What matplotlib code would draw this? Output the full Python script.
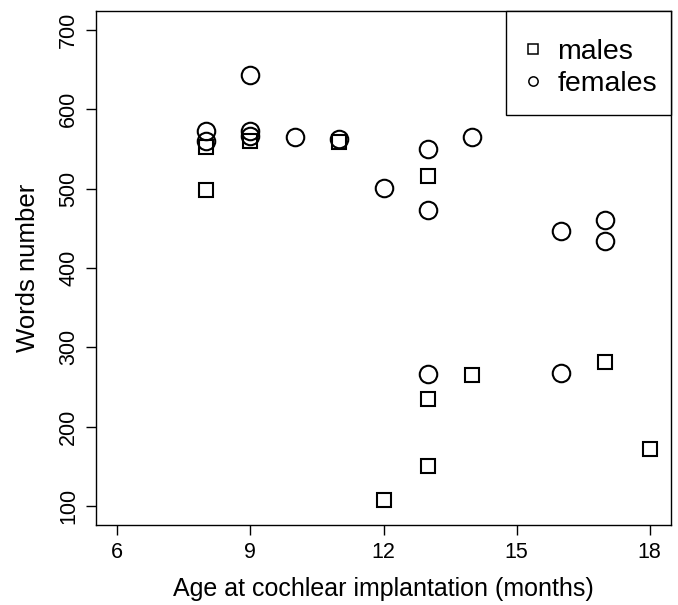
import matplotlib
matplotlib.use("Agg")
import matplotlib.pyplot as plt
from matplotlib.lines import Line2D
from matplotlib.patches import Rectangle

plt.rcParams['font.family'] = ['Liberation Sans', 'DejaVu Sans']

male_age = [8, 8, 9, 11, 12, 13, 13, 13, 14, 17, 18]
male_words = [553, 498, 560, 559, 107, 516, 235, 151, 265, 282, 172]
female_age = [8, 8, 9, 9, 9, 10, 11, 12, 13, 13, 13, 14, 16, 16, 17, 17]
female_words = [573, 560, 643, 573, 567, 565, 563, 501, 550, 473, 266, 565, 447, 268, 460, 434]

x_ticks = [6, 9, 12, 15, 18]
y_ticks = [100, 200, 300, 400, 500, 600, 700]

W, H = 678, 605
fig = plt.figure(figsize=(W / 100, H / 100), dpi=100)
ax = fig.add_axes([96 / W, 1 - 525 / H, (671 - 96) / W, (525 - 11) / H])

ax.plot(male_age, male_words, linestyle='none', marker='s', markersize=10.6,
        markerfacecolor='none', markeredgecolor='black', markeredgewidth=1.5)
ax.plot(female_age, female_words, linestyle='none', marker='o', markersize=12.6,
        markerfacecolor='none', markeredgecolor='black', markeredgewidth=1.5)

ax.set_xlim(6 - 0.48, 18 + 0.48)
ax.set_ylim(100 - 24, 700 + 24)
ax.set_xticks(x_ticks)
ax.set_yticks(y_ticks)
ax.tick_params(axis='both', direction='out', length=7, width=1.0, labelsize=15.5, pad=5)
for lab in ax.get_yticklabels():
    lab.set_rotation(90)
    lab.set_va('center')
for sp in ax.spines.values():
    sp.set_linewidth(1.0)

ax.set_xlabel('Age at cochlear implantation (months)', fontsize=18, labelpad=10)
ax.set_ylabel('Words number', fontsize=18.5, labelpad=13)

# legend frame (R-style box in the top-right corner)
box = Rectangle((0.713, 0.7977), 0.287, 0.2023, transform=ax.transAxes,
                facecolor='white', edgecolor='black', linewidth=1.0, zorder=4, clip_on=False)
ax.add_patch(box)

handles = [
    Line2D([], [], linestyle='none', marker='s', markersize=7.5, markerfacecolor='none',
           markeredgecolor='black', markeredgewidth=1.1),
    Line2D([], [], linestyle='none', marker='o', markersize=6.7, markerfacecolor='none',
           markeredgecolor='black', markeredgewidth=1.1),
]
leg = ax.legend(handles, ['males', 'females'], loc='center', bbox_to_anchor=(0.858, 0.889),
                borderaxespad=0, fontsize=20.5, frameon=False, handlelength=0.8,
                handletextpad=0.45, borderpad=0, labelspacing=0.2)
leg.set_zorder(5)

fig.savefig('out.png', dpi=100)
